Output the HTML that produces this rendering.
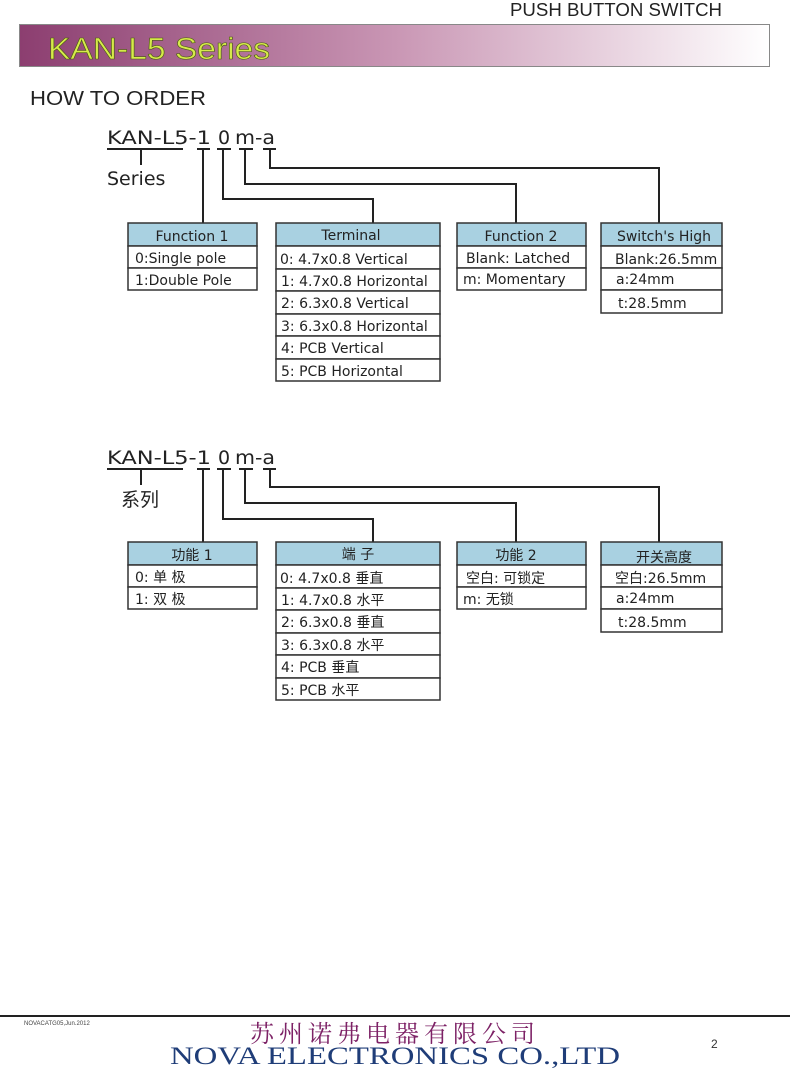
<!DOCTYPE html>
<html><head><meta charset="utf-8"><style>
html,body{margin:0;padding:0;background:#fff;}
svg{display:block;}
.t{font-family:"DejaVu Sans","Liberation Sans","Noto Sans CJK SC",sans-serif;font-size:14px;fill:#222;}
.c{font-family:"DejaVu Sans","Liberation Sans","Noto Sans CJK SC",sans-serif;font-size:19px;fill:#222;}
</style></head><body>
<svg width="790" height="1069" viewBox="0 0 790 1069" xmlns="http://www.w3.org/2000/svg">
<defs>
<linearGradient id="g" x1="0" x2="1" y1="0" y2="0">
<stop offset="0" stop-color="#8c3e70"/>
<stop offset="0.5" stop-color="#c996b4"/>
<stop offset="1" stop-color="#ffffff"/>
</linearGradient>
</defs>
<text x="722" y="16" text-anchor="end" font-family="Liberation Sans Narrow, Liberation Sans, sans-serif" font-size="18" fill="#222" textLength="212" lengthAdjust="spacingAndGlyphs">PUSH BUTTON SWITCH</text>
<rect x="19.5" y="24.5" width="750" height="42" fill="url(#g)" stroke="#888"/>
<text x="48" y="59" font-family="Liberation Sans, sans-serif" font-size="31" fill="#d6ea4a" stroke="#4a5a10" stroke-width="0.6" textLength="222" lengthAdjust="spacingAndGlyphs">KAN-L5 Series</text>
<text x="30" y="105" font-family="Liberation Sans, sans-serif" font-size="20" fill="#222" textLength="176" lengthAdjust="spacingAndGlyphs">HOW TO ORDER</text>

<g id="sec1">
<text class="c" x="107" y="144" textLength="104" lengthAdjust="spacingAndGlyphs">KAN-L5-1</text>
<text class="c" x="218" y="144">0</text>
<text class="c" x="235" y="144" textLength="40" lengthAdjust="spacingAndGlyphs">m-a</text>
<g stroke="#222" stroke-width="2" fill="none">
<line x1="107" y1="149" x2="183" y2="149"/>
<line x1="141" y1="149" x2="141" y2="165"/>
<line x1="197" y1="149" x2="210" y2="149"/>
<line x1="203" y1="149" x2="203" y2="223"/>
<line x1="217" y1="149" x2="231" y2="149"/>
<polyline points="223,149 223,199 373,199 373,223"/>
<line x1="239" y1="149" x2="253" y2="149"/>
<polyline points="245,149 245,184 516,184 516,223"/>
<line x1="263" y1="149" x2="276" y2="149"/>
<polyline points="270,149 270,168 659,168 659,223"/>
</g>
<text class="c" x="107" y="185">Series</text>

<g stroke="#333" stroke-width="1.5">
<rect x="128" y="223" width="129" height="23" fill="#a9d1e1"/>
<rect x="128" y="246" width="129" height="22" fill="#fff"/>
<rect x="128" y="268" width="129" height="22" fill="#fff"/>
<rect x="276" y="223" width="164" height="23" fill="#a9d1e1"/>
<rect x="276" y="246" width="164" height="23" fill="#fff"/>
<rect x="276" y="269" width="164" height="22" fill="#fff"/>
<rect x="276" y="291" width="164" height="23" fill="#fff"/>
<rect x="276" y="314" width="164" height="22" fill="#fff"/>
<rect x="276" y="336" width="164" height="23" fill="#fff"/>
<rect x="276" y="359" width="164" height="22" fill="#fff"/>
<rect x="457" y="223" width="129" height="23" fill="#a9d1e1"/>
<rect x="457" y="246" width="129" height="22" fill="#fff"/>
<rect x="457" y="268" width="129" height="22" fill="#fff"/>
<rect x="601" y="223" width="121" height="23" fill="#a9d1e1"/>
<rect x="601" y="246" width="121" height="22" fill="#fff"/>
<rect x="601" y="268" width="121" height="22" fill="#fff"/>
<rect x="601" y="290" width="121" height="23" fill="#fff"/>
</g>
<text class="t" x="192" y="241" text-anchor="middle">Function 1</text>
<text class="t" x="135" y="263">0:Single pole</text>
<text class="t" x="135" y="285">1:Double Pole</text>
<text class="t" x="351" y="240" text-anchor="middle">Terminal</text>
<text class="t" x="280" y="264">0: 4.7x0.8 Vertical</text>
<text class="t" x="281" y="286">1: 4.7x0.8 Horizontal</text>
<text class="t" x="281" y="308">2: 6.3x0.8 Vertical</text>
<text class="t" x="281" y="331">3: 6.3x0.8 Horizontal</text>
<text class="t" x="281" y="353">4: PCB  Vertical</text>
<text class="t" x="281" y="376">5: PCB  Horizontal</text>
<text class="t" x="521" y="241" text-anchor="middle">Function 2</text>
<text class="t" x="466" y="263">Blank: Latched</text>
<text class="t" x="463" y="284">m: Momentary</text>
<text class="t" x="664" y="241" text-anchor="middle">Switch's  High</text>
<text class="t" x="615" y="264">Blank:26.5mm</text>
<text class="t" x="616" y="284">a:24mm</text>
<text class="t" x="618" y="308">t:28.5mm</text>
</g>

<g id="sec2">
<text class="c" x="107" y="464" textLength="104" lengthAdjust="spacingAndGlyphs">KAN-L5-1</text>
<text class="c" x="218" y="464">0</text>
<text class="c" x="235" y="464" textLength="40" lengthAdjust="spacingAndGlyphs">m-a</text>
<g stroke="#222" stroke-width="2" fill="none">
<line x1="107" y1="469" x2="183" y2="469"/>
<line x1="141" y1="469" x2="141" y2="485"/>
<line x1="197" y1="469" x2="210" y2="469"/>
<line x1="203" y1="469" x2="203" y2="542"/>
<line x1="217" y1="469" x2="231" y2="469"/>
<polyline points="223,469 223,519 373,519 373,542"/>
<line x1="239" y1="469" x2="253" y2="469"/>
<polyline points="245,469 245,503 516,503 516,542"/>
<line x1="263" y1="469" x2="276" y2="469"/>
<polyline points="270,469 270,487 659,487 659,542"/>
</g>
<text class="c" x="121" y="506" font-size="18">系列</text>

<g stroke="#333" stroke-width="1.5">
<rect x="128" y="542" width="129" height="23" fill="#a9d1e1"/>
<rect x="128" y="565" width="129" height="22" fill="#fff"/>
<rect x="128" y="587" width="129" height="22" fill="#fff"/>
<rect x="276" y="542" width="164" height="23" fill="#a9d1e1"/>
<rect x="276" y="565" width="164" height="23" fill="#fff"/>
<rect x="276" y="588" width="164" height="22" fill="#fff"/>
<rect x="276" y="610" width="164" height="23" fill="#fff"/>
<rect x="276" y="633" width="164" height="22" fill="#fff"/>
<rect x="276" y="655" width="164" height="23" fill="#fff"/>
<rect x="276" y="678" width="164" height="22" fill="#fff"/>
<rect x="457" y="542" width="129" height="23" fill="#a9d1e1"/>
<rect x="457" y="565" width="129" height="22" fill="#fff"/>
<rect x="457" y="587" width="129" height="22" fill="#fff"/>
<rect x="601" y="542" width="121" height="23" fill="#a9d1e1"/>
<rect x="601" y="565" width="121" height="22" fill="#fff"/>
<rect x="601" y="587" width="121" height="22" fill="#fff"/>
<rect x="601" y="609" width="121" height="23" fill="#fff"/>
</g>
<text class="t" x="192" y="560" text-anchor="middle">功能 1</text>
<text class="t" x="135" y="582">0:  单 极</text>
<text class="t" x="135" y="604">1:  双 极</text>
<text class="t" x="358" y="559" text-anchor="middle">端 子</text>
<text class="t" x="280" y="583">0: 4.7x0.8 垂直</text>
<text class="t" x="281" y="605">1: 4.7x0.8 水平</text>
<text class="t" x="281" y="627">2: 6.3x0.8 垂直</text>
<text class="t" x="281" y="650">3: 6.3x0.8 水平</text>
<text class="t" x="281" y="672">4: PCB  垂直</text>
<text class="t" x="281" y="695">5: PCB  水平</text>
<text class="t" x="516" y="560" text-anchor="middle">功能 2</text>
<text class="t" x="466" y="583">空白:  可锁定</text>
<text class="t" x="463" y="604">m: 无锁</text>
<text class="t" x="664" y="562" text-anchor="middle">开关高度</text>
<text class="t" x="615" y="583">空白:26.5mm</text>
<text class="t" x="616" y="603">a:24mm</text>
<text class="t" x="618" y="627">t:28.5mm</text>
</g>

<line x1="0" y1="1016" x2="790" y2="1016" stroke="#222" stroke-width="2"/>
<text x="24" y="1025" font-family="Liberation Sans, sans-serif" font-size="6" fill="#444">NOVACATG05,Jun.2012</text>
<text x="395" y="1042" text-anchor="middle" font-family="Noto Serif CJK SC, serif" font-size="24" fill="#7d2266" letter-spacing="5">苏州诺弗电器有限公司</text>
<text x="395" y="1064" text-anchor="middle" font-family="Liberation Serif, serif" font-size="25" fill="#1f3d78" textLength="450" lengthAdjust="spacingAndGlyphs">NOVA ELECTRONICS CO.,LTD</text>
<text x="711" y="1048" font-family="Liberation Sans, sans-serif" font-size="12" fill="#333">2</text>
</svg>
</body></html>
